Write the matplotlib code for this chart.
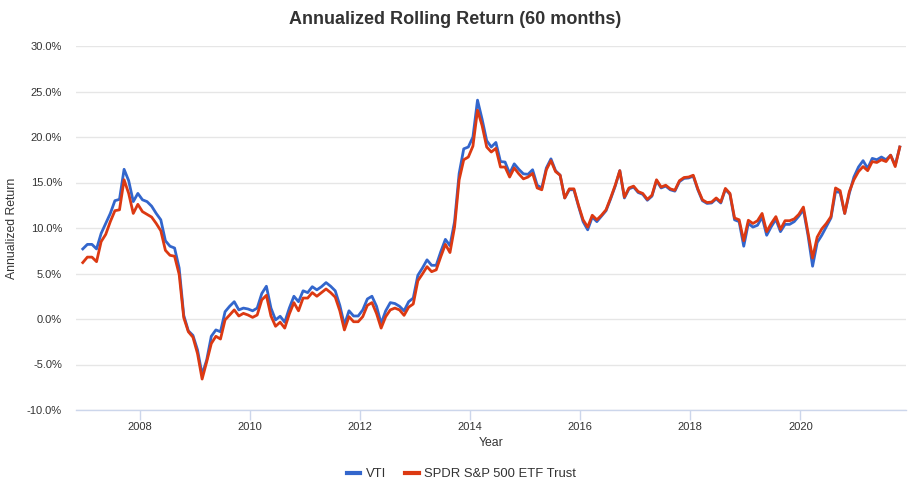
import matplotlib
matplotlib.use("Agg")
import matplotlib.pyplot as plt
from matplotlib.ticker import FuncFormatter, FixedLocator
import numpy as np

plt.rcParams['font.family'] = ['Liberation Sans', 'DejaVu Sans']

# Monthly data, Dec 2006 .. Oct 2021 (179 points)
start_year = 2006.97
vti = [
    7.7, 8.2, 8.2, 7.7, 9.4, 10.5, 11.6, 13.0, 13.15, 16.45,
    15.2, 12.9, 13.8, 13.1, 12.9, 12.4, 11.6, 10.9, 8.6, 8.0,
    7.8, 5.6, 0.4, -1.3, -1.8, -3.4, -6.1, -4.5, -1.9, -1.2,
    -1.4, 0.8, 1.4, 1.9, 1.0, 1.2, 1.1, 0.9, 1.2, 2.8,
    3.6, 1.2, -0.1, 0.3, -0.35, 1.2, 2.5, 1.9, 3.1, 2.9,
    3.55, 3.2, 3.55, 4.0, 3.6, 3.1, 1.5, -0.65, 0.9, 0.33,
    0.33, 1.0, 2.2, 2.5, 1.4, -0.5, 0.9, 1.8, 1.7, 1.4,
    0.9, 1.9, 2.3, 4.8, 5.6, 6.5, 5.9, 5.9, 7.4, 8.75,
    8.06, 10.7, 16.0, 18.7, 18.9, 20.0, 24.05, 21.95, 19.6, 18.9,
    19.4, 17.3, 17.25, 16.0, 17.05, 16.45, 15.95, 15.9, 16.4, 14.7,
    14.4, 16.6, 17.6, 16.3, 15.8, 13.3, 14.2, 14.2, 12.4, 10.7,
    9.8, 11.2, 10.7, 11.3, 11.9, 13.2, 14.6, 16.3, 13.3, 14.3,
    14.5, 13.9, 13.7, 13.05, 13.5, 15.2, 14.4, 14.6, 14.2, 14.05,
    15.1, 15.45, 15.5, 15.7, 14.2, 13.0, 12.7, 12.75, 13.2, 12.75,
    14.25, 13.7, 10.9, 10.7, 8.0, 10.5, 10.1, 10.3, 11.2, 9.2,
    10.15, 10.95, 9.6, 10.4, 10.4, 10.7, 11.3, 12.0, 9.2, 5.8,
    8.4, 9.2, 10.15, 11.1, 14.0, 13.9, 11.6, 13.8, 15.6, 16.7,
    17.4, 16.55, 17.65, 17.5, 17.8, 17.5, 18.0, 16.9, 18.9,
]
spy = [
    6.2, 6.8, 6.8, 6.3, 8.5, 9.3, 10.7, 11.9, 12.0, 15.3,
    13.8, 11.6, 12.6, 11.8, 11.5, 11.2, 10.5, 9.7, 7.55, 7.0,
    6.9, 4.9, 0.15, -1.4, -2.0, -3.8, -6.6, -4.7, -2.7, -1.9,
    -2.2, -0.1, 0.44, 1.0, 0.33, 0.62, 0.44, 0.18, 0.44, 2.1,
    2.6, 0.33, -0.8, -0.35, -1.0, 0.55, 1.8, 0.9, 2.3, 2.3,
    2.9, 2.5, 2.9, 3.3, 2.9, 2.4, 0.9, -1.2, 0.26, -0.3,
    -0.3, 0.26, 1.5, 1.8, 0.6, -1.0, 0.26, 1.0, 1.2, 1.0,
    0.4, 1.3, 1.65, 4.2, 4.95, 5.75, 5.2, 5.4, 6.85, 8.2,
    7.3, 10.1, 15.3, 17.5, 17.8, 19.0, 22.95, 21.25, 18.9, 18.35,
    18.75, 16.7, 16.7, 15.6, 16.6, 15.95, 15.4, 15.6, 16.0, 14.4,
    14.2, 16.4, 17.4, 16.2, 15.8, 13.3, 14.3, 14.3, 12.5, 10.9,
    10.1, 11.4, 10.9, 11.4, 12.0, 13.3, 14.7, 16.3, 13.4, 14.4,
    14.6, 14.0, 13.8, 13.15, 13.6, 15.3, 14.5, 14.7, 14.3, 14.15,
    15.2, 15.55, 15.6, 15.8, 14.3, 13.1, 12.8, 12.85, 13.3, 12.85,
    14.35, 13.8, 11.1, 10.9, 8.6, 10.85, 10.5, 10.8, 11.6, 9.6,
    10.5, 11.25, 9.85, 10.8, 10.8, 11.0, 11.5, 12.3, 9.5, 6.7,
    9.0, 9.9, 10.5, 11.25, 14.4, 14.1, 11.6, 14.0, 15.3, 16.2,
    16.75, 16.3, 17.3, 17.2, 17.5, 17.3, 18.0, 16.75, 18.9,
]
series_names = ["VTI", "SPDR S&P 500 ETF Trust"]
y_ticks = [-10, -5, 0, 5, 10, 15, 20, 25, 30]
x_ticks = [2008, 2010, 2012, 2014, 2016, 2018, 2020]

n = len(vti)
x = start_year + np.arange(n) / 12.0

W, H = 911, 492
fig = plt.figure(figsize=(W / 100, H / 100), dpi=100)
L, R, T, B = 76, 906, 46, 410
ax = fig.add_axes([L / W, 1 - B / H, (R - L) / W, (B - T) / H])

blue = "#3366cc"
red = "#dc3912"
ax.plot(x, vti, color=blue, lw=2.0, label=series_names[0], solid_joinstyle='round', zorder=3)
ax.plot(x, spy, color=red, lw=2.0, label=series_names[1], solid_joinstyle='round', zorder=4)

ax.set_xlim(2006.847, 2021.916)
ax.set_ylim(-10, 30)
ax.yaxis.set_major_locator(FixedLocator(y_ticks))
ax.xaxis.set_major_locator(FixedLocator(x_ticks))
ax.yaxis.set_major_formatter(FuncFormatter(lambda v, p: f"{v:.1f}%"))

for s in ["top", "right", "left"]:
    ax.spines[s].set_visible(False)
ax.spines["bottom"].set_color("#ccd6eb")
ax.spines["bottom"].set_linewidth(1)

ax.grid(axis="y", color="#e6e6e6", lw=1)
ax.set_axisbelow(True)
ax.tick_params(axis="y", length=0, pad=10, labelsize=8, labelcolor="#333333")
ax.tick_params(axis="x", length=7, width=1, color="#ccd6eb", pad=2, labelsize=8, labelcolor="#333333")

ax.set_xlabel("Year", fontsize=8.8, color="#333333", labelpad=3.5)
ax.set_ylabel("Annualized Return", fontsize=8.8, color="#333333")
ax.yaxis.set_label_coords((18 - L) / (R - L), 0.5)

fig.text(0.5, 1 - 20 / H, "Annualized Rolling Return (60 months)", ha="center", va="center",
         fontsize=13, fontweight="bold", color="#333333")

leg = fig.legend(loc="center", bbox_to_anchor=(461.5 / W, 1 - 474 / H), ncol=2, frameon=False,
                 fontsize=9.4, handlelength=1.05, handletextpad=0.45, columnspacing=1.4)
for line in leg.get_lines():
    line.set_linewidth(3)
for t in leg.get_texts():
    t.set_color("#333333")

fig.savefig("out.png", dpi=100)
